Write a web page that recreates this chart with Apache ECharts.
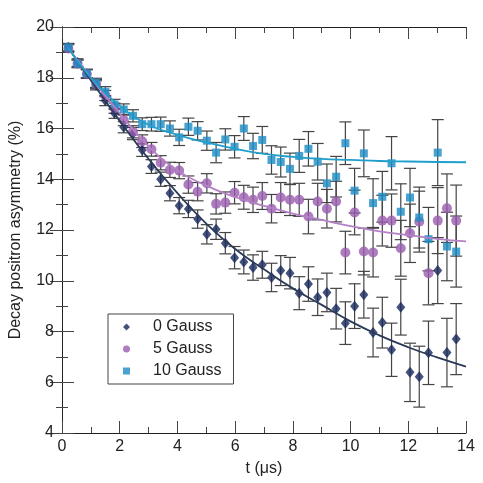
<!DOCTYPE html>
<html>
<head>
<meta charset="utf-8">
<script src="https://cdn.jsdelivr.net/npm/echarts@6/dist/echarts.min.js"></script>
<style>
  html, body { margin: 0; padding: 0; background: #fff; }
  #chart { width: 483px; height: 483px; }
</style>
</head>
<body>
<div id="chart"></div>
<script>
// time bins (us)
const times = [0.22, 0.54, 0.86, 1.18, 1.5, 1.82, 2.14, 2.46, 2.78, 3.1, 3.42, 3.74, 4.06, 4.38, 4.7,
  5.02, 5.34, 5.66, 5.98, 6.3, 6.62, 6.94, 7.26, 7.58, 7.9, 8.22, 8.54, 8.86, 9.18, 9.5,
  9.82, 10.14, 10.46, 10.78, 11.1, 11.42, 11.74, 12.06, 12.38, 12.7, 13.02, 13.34, 13.66]

const gauss0 = [19.2, 18.6, 18.15, 17.7, 17.1, 16.6, 16.05, 15.8, 15.15, 14.5, 14.0, 13.45, 12.96, 12.83, 12.43,
  11.83, 12.03, 11.48, 10.91, 10.74, 10.52, 10.63, 10.13, 10.4, 10.3, 9.51, 9.87, 9.35, 9.54, 8.9,
  8.33, 9.0, 9.45, 7.96, 8.35, 7.28, 8.96, 6.39, 6.22, 7.16, 10.4, 7.17, 7.7]

const gauss5 = [19.15, 18.55, 18.15, 17.75, 17.3, 16.8, 16.33, 15.87, 15.5, 15.18, 14.65, 14.37, 14.34, 13.79, 13.51,
  13.84, 13.03, 13.08, 13.47, 13.29, 13.19, 13.34, 12.84, 13.28, 13.19, 13.19, 12.53, 13.12, 12.84, 13.12,
  11.11, 12.69, 11.15, 11.11, 12.37, 12.37, 11.28, 11.87, 12.33, 10.3, 12.37, 12.86, 12.37]

const gauss10 = [19.2, 18.55, 18.17, 17.8, 17.45, 16.95, 16.75, 16.5, 16.17, 16.17, 16.17, 16.0, 15.65, 16.07, 15.91,
  15.52, 15.05, 15.57, 15.28, 16.0, 15.31, 15.55, 14.76, 14.68, 14.41, 14.92, 15.2, 14.69, 13.84, 14.1,
  15.42, 13.55, 15.02, 13.06, 13.31, 14.63, 12.72, 13.28, 12.49, 11.64, 15.05, 11.35, 11.15]

// error bar half-heights (%)
const errs = [0.15, 0.15, 0.17, 0.18, 0.2, 0.2, 0.22, 0.24, 0.25, 0.27, 0.28, 0.3, 0.32, 0.34, 0.36,
  0.38, 0.4, 0.42, 0.44, 0.47, 0.5, 0.53, 0.56, 0.59, 0.62, 0.65, 0.68, 0.72, 0.76, 0.8,
  0.84, 0.88, 0.92, 0.96, 1.0, 1.05, 1.1, 1.15, 1.2, 1.25, 1.3, 1.35, 1.4]

// fit curves
const fitT = [0.2, 1, 2, 3, 4, 5, 6, 7, 8, 9, 10, 11, 12, 13, 14]
const fit0 = [19.2, 17.9, 16.3, 14.8, 13.45, 12.25, 11.25, 10.45, 9.7, 9.05, 8.4, 7.85, 7.38, 6.98, 6.62]
const fit5 = [19.2, 18.0, 16.6, 15.3, 14.35, 13.75, 13.3, 12.95, 12.65, 12.4, 12.15, 11.95, 11.8, 11.65, 11.55]
const fit10 = [19.2, 18.0, 16.9, 16.15, 15.75, 15.45, 15.2, 15.0, 14.88, 14.8, 14.76, 14.72, 14.7, 14.68, 14.67]

const xTicks = [0, 2, 4, 6, 8, 10, 12, 14]
const yTicks = [4, 6, 8, 10, 12, 14, 16, 18, 20]

const seriesNames = ['0 Gauss', '5 Gauss', '10 Gauss']
const colors = ['#15275b', '#9a5cb0', '#1b8cc4']
const lineColors = ['#2b3a58', '#b581c6', '#1f9fcb']
const symbols = ['diamond', 'circle', 'rect']
const symbolSizes = [[9, 11], 10, 8]

const chart = echarts.init(document.getElementById('chart'))

const pairs = (xs, ys) => xs.map((x, i) => [x, ys[i]])

const errorSeries = (ys) => ({
  type: 'custom',
  silent: true,
  z: 1,
  data: times.map((t, i) => [t, ys[i] - errs[i], ys[i] + errs[i]]),
  renderItem: (params, api) => {
    const lo = api.coord([api.value(0), api.value(1)])
    const hi = api.coord([api.value(0), api.value(2)])
    const w = 6
    const style = { stroke: '#444', lineWidth: 1.2 }
    return {
      type: 'group',
      children: [
        { type: 'line', shape: { x1: lo[0], y1: lo[1], x2: hi[0], y2: hi[1] }, style },
        { type: 'line', shape: { x1: lo[0] - w, y1: lo[1], x2: lo[0] + w, y2: lo[1] }, style },
        { type: 'line', shape: { x1: hi[0] - w, y1: hi[1], x2: hi[0] + w, y2: hi[1] }, style }
      ]
    }
  }
})

const dataSets = [gauss0, gauss5, gauss10]
const fits = [fit0, fit5, fit10]

const series = []
dataSets.forEach(ys => series.push(errorSeries(ys)))
dataSets.forEach((ys, k) => series.push({
  name: seriesNames[k],
  type: 'scatter',
  z: 3,
  symbol: symbols[k],
  symbolSize: symbolSizes[k],
  itemStyle: { color: colors[k] },
  data: pairs(times, ys)
}))
fits.forEach((ys, k) => series.push({
  type: 'line',
  z: 4,
  smooth: true,
  symbol: 'none',
  lineStyle: { color: lineColors[k], width: 1.8 },
  data: pairs(fitT, ys)
}))

const axisFont = { fontFamily: 'Liberation Sans', fontSize: 16, color: '#222' }

const option = {
  animation: false,
  backgroundColor: '#fff',
  grid: { left: 59, right: 17, top: 27, bottom: 50 },
  legend: {
    data: seriesNames.map((n, k) => ({ name: n, icon: symbols[k] })),
    orient: 'vertical',
    left: 108,
    top: 314,
    itemWidth: 7,
    itemHeight: 7,
    itemGap: 6,
    padding: [5, 12, 5, 15],
    borderColor: '#444',
    borderWidth: 1,
    textStyle: { fontFamily: 'Liberation Sans', fontSize: 16, color: '#222', padding: [0, 0, 0, 18] }
  },
  xAxis: [
    {
      type: 'value', min: 0, max: 14, interval: 2,
      name: 't (\u03bcs)', nameLocation: 'middle', nameGap: 28,
      nameTextStyle: axisFont,
      axisLine: { lineStyle: { color: '#222', width: 1 } },
      axisTick: { inside: true, length: 12, lineStyle: { color: '#444' } },
      minorTick: { show: true, splitNumber: 2, length: 6, lineStyle: { color: '#444' } },
      axisLabel: { ...axisFont, margin: 6, formatter: v => xTicks.includes(v) ? String(v) : '' },
      splitLine: { show: false }
    },
    {
      type: 'value', position: 'top', min: 0, max: 14, interval: 2,
      axisLine: { lineStyle: { color: '#222', width: 1 } },
      axisTick: { inside: true, length: 12, lineStyle: { color: '#444' } },
      minorTick: { show: true, splitNumber: 2, length: 6, lineStyle: { color: '#444' } },
      axisLabel: { show: false },
      splitLine: { show: false }
    }
  ],
  yAxis: [
    {
      type: 'value', min: 4, max: 20, interval: 2,
      name: 'Decay positron asymmetry (%)', nameLocation: 'middle', nameGap: 38,
      nameTextStyle: axisFont,
      axisLine: { show: true, lineStyle: { color: '#222', width: 1 } },
      axisTick: { show: true, inside: true, length: 12, lineStyle: { color: '#444' } },
      minorTick: { show: true, splitNumber: 2, length: 6, lineStyle: { color: '#444' } },
      axisLabel: { ...axisFont, margin: 8, formatter: v => yTicks.includes(v) ? String(v) : '' },
      splitLine: { show: false }
    },
    {
      type: 'value', position: 'right', min: 4, max: 20, interval: 2,
      axisLine: { show: true, lineStyle: { color: '#222', width: 1 } },
      axisTick: { show: true, inside: true, length: 12, lineStyle: { color: '#444' } },
      minorTick: { show: true, splitNumber: 2, length: 6, lineStyle: { color: '#444' } },
      axisLabel: { show: false },
      splitLine: { show: false }
    }
  ],
  series
}

chart.setOption(option)
</script>
</body>
</html>
